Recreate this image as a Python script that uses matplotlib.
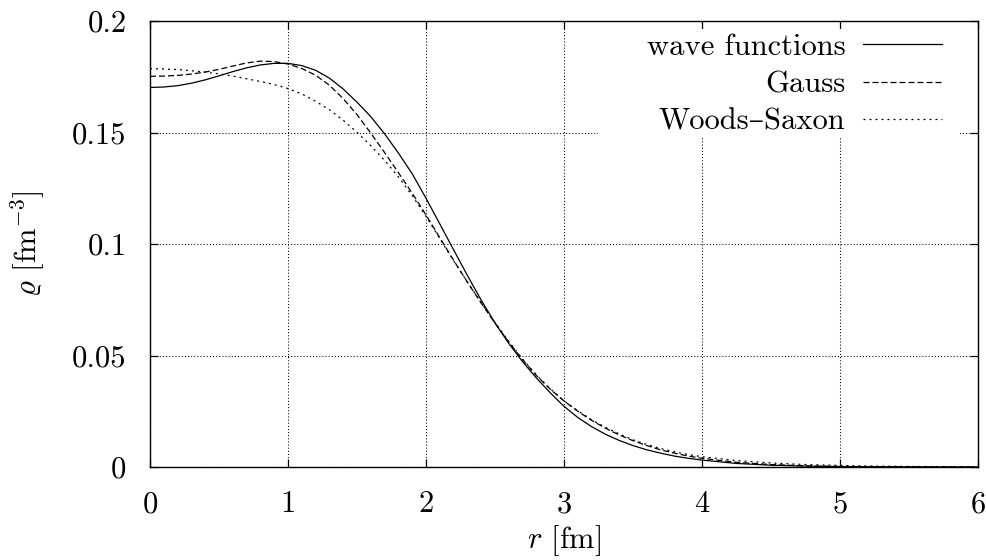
import matplotlib
matplotlib.use("Agg")
import matplotlib.pyplot as plt
from matplotlib.ticker import FixedLocator, FixedFormatter
from matplotlib.patches import Rectangle

plt.rcParams['font.family'] = ['cmr10', 'DejaVu Serif']
plt.rcParams['mathtext.fontset'] = 'cm'
plt.rcParams['axes.unicode_minus'] = False

r = [0.0, 0.1, 0.2, 0.3, 0.4, 0.5, 0.6, 0.7, 0.8, 0.9,
     1.0, 1.1, 1.2, 1.3, 1.4, 1.5, 1.6, 1.7, 1.8, 1.9,
     2.0, 2.1, 2.2, 2.3, 2.4, 2.5, 2.6, 2.7, 2.8, 2.9,
     3.0, 3.1, 3.2, 3.3, 3.4, 3.5, 3.6, 3.7, 3.8, 3.9,
     4.0, 4.25, 4.5, 4.75, 5.0, 5.25, 5.5, 5.75, 6.0]

rho_wave = [0.1702, 0.1704, 0.1710, 0.1721, 0.1736, 0.1754, 0.1773, 0.1790, 0.1803, 0.1810,
            0.1810, 0.1800, 0.1779, 0.1744, 0.1695, 0.1636, 0.1571, 0.1494, 0.1408, 0.1315,
            0.1205, 0.1090, 0.0974, 0.0859, 0.0748, 0.0646, 0.0554, 0.0472, 0.0399, 0.0333,
            0.0272, 0.0222, 0.0181, 0.0147, 0.0119, 0.0096, 0.0077, 0.0062, 0.0049, 0.0039,
            0.0031, 0.0016, 0.0008, 0.0004, 0.0002, 0.0001, 0.00005, 0.00002, 0.00001]

rho_gauss = [0.1752, 0.1753, 0.1756, 0.1762, 0.1771, 0.1783, 0.1798, 0.1812, 0.1820, 0.1818,
             0.1807, 0.1787, 0.1757, 0.1712, 0.1652, 0.1580, 0.1497, 0.1410, 0.1320, 0.1228,
             0.1130, 0.1028, 0.0927, 0.0829, 0.0735, 0.0645, 0.0560, 0.0481, 0.0410, 0.0349,
             0.0296, 0.0250, 0.0209, 0.0174, 0.0144, 0.0118, 0.0096, 0.0077, 0.0062, 0.0049,
             0.0039, 0.0021, 0.0011, 0.0005, 0.0002, 0.0001, 0.00004, 0.00001, 0.0]

rho_ws = [0.1786, 0.1785, 0.1782, 0.1777, 0.1771, 0.1763, 0.1753, 0.1741, 0.1729, 0.1715,
          0.1697, 0.1673, 0.1640, 0.1602, 0.1555, 0.1501, 0.1441, 0.1375, 0.1301, 0.1217,
          0.1124, 0.1024, 0.0925, 0.0829, 0.0737, 0.0648, 0.0563, 0.0484, 0.0413, 0.0351,
          0.0297, 0.0252, 0.0212, 0.0178, 0.0148, 0.0122, 0.0101, 0.0083, 0.0068, 0.0056,
          0.0046, 0.0029, 0.0018, 0.0011, 0.0007, 0.0004, 0.00025, 0.00015, 0.0001]

x_ticks = [0, 1, 2, 3, 4, 5, 6]
x_ticklabels = ['0', '1', '2', '3', '4', '5', '6']
y_ticks = [0, 0.05, 0.1, 0.15, 0.2]
y_ticklabels = ['0', '0.05', '0.1', '0.15', '0.2']
labels = ['wave functions', 'Gauss', 'Woods\u2013Saxon']

fig = plt.figure(figsize=(9.86, 5.6), dpi=100)
ax = fig.add_axes([150/986, 1-467/560, 828/986, 446/560])

lw = 0.9
ax.plot(r, rho_wave, color='black', lw=lw, ls='-', label=labels[0], solid_joinstyle='round')
ax.plot(r, rho_gauss, color='black', lw=lw, ls=(0, (4.8, 2.4)), label=labels[1])
ax.plot(r, rho_ws, color='black', lw=lw, ls=(0, (1.6, 3.2)), label=labels[2])

ax.set_xlim(0, 6)
ax.set_ylim(0, 0.2)
ax.xaxis.set_major_locator(FixedLocator(x_ticks))
ax.xaxis.set_major_formatter(FixedFormatter(x_ticklabels))
ax.yaxis.set_major_locator(FixedLocator(y_ticks))
ax.yaxis.set_major_formatter(FixedFormatter(y_ticklabels))

ax.grid(True, color='black', lw=0.75, ls=(0, (1, 2.0)))
ax.tick_params(direction='in', length=5.5, width=0.9, top=True, right=True,
               labelsize=22)
ax.tick_params(axis='x', pad=17)
ax.tick_params(axis='y', pad=17)
for s in ax.spines.values():
    s.set_linewidth(1.0)

ax.set_xlabel(r'$r$ [fm]', fontsize=22, labelpad=4)
ax.set_ylabel(r'$\varrho$ [fm$^{-3}$]', fontsize=22, labelpad=18)

# white key area masking the grid (as gnuplot does)
mask = Rectangle((448/828, 330/446), 362/828, 108/446, transform=ax.transAxes,
                 facecolor='white', edgecolor='none', zorder=1.7)
ax.add_patch(mask)

leg = ax.legend(loc='upper right', bbox_to_anchor=(792/828, 433.4/446),
                markerfirst=False, frameon=False, fontsize=22,
                handlelength=2.58, handletextpad=0.59, borderaxespad=0.0,
                borderpad=0.0, labelspacing=0.32)

fig.savefig('out.png', dpi=100)
